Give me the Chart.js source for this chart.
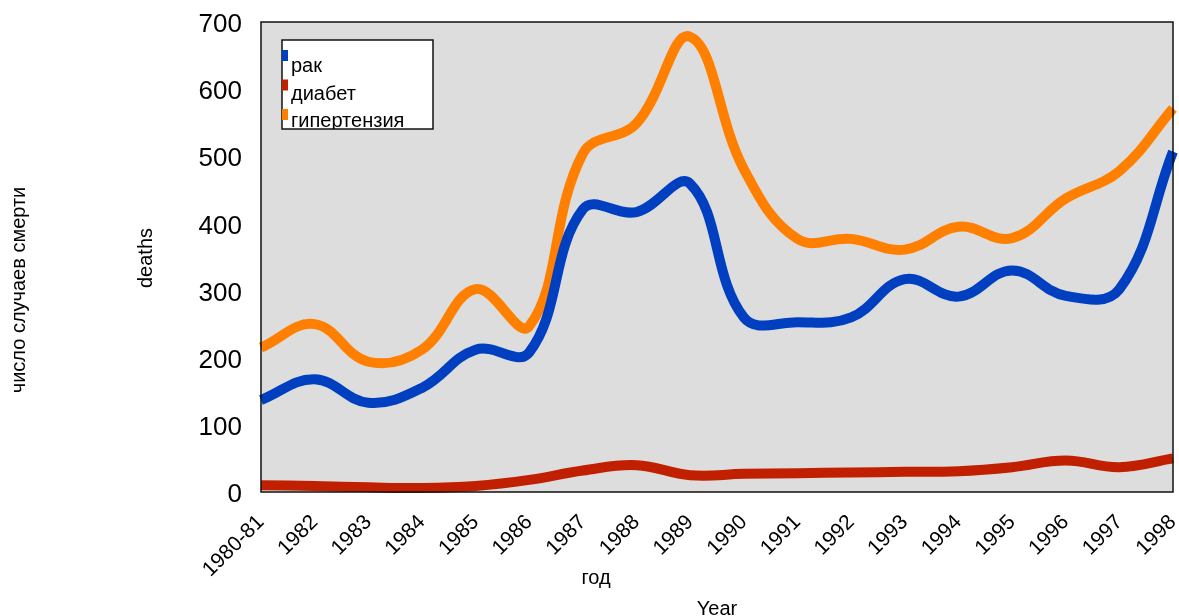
<!DOCTYPE html>
<html>
<head>
<meta charset="utf-8">
<script src="https://cdn.jsdelivr.net/npm/chart.js@4"></script>
<style>
  html, body { margin: 0; padding: 0; background: #fff; }
  #wrap { width: 1179px; height: 616px; }
</style>
</head>
<body>
<div id="wrap"><canvas id="chart" width="1179" height="616"></canvas></div>
<script>
let years = ['1980-81','1982','1983','1984','1985','1986','1987','1988','1989',
             '1990','1991','1992','1993','1994','1995','1996','1997','1998'];
let cancer = [137,168,133,155,212,208,421,417,459,260,253,260,317,291,330,292,302,507];
let diabetes = [10,9,7,6,9,18,32,40,25,27,28,29,30,31,37,47,37,50];
let hypertension = [215,250,194,212,302,247,504,549,678,481,377,377,361,395,378,437,478,571];
let yTicks = [0,100,200,300,400,500,600,700];

let FONT = "'Liberation Sans', Arial, sans-serif";

let plotDeco = {
    id: 'plotDeco',
    beforeDatasetsDraw(chart) {
        let a = chart.chartArea, c = chart.ctx;
        c.save();
        c.fillStyle = '#dddddd';
        c.fillRect(a.left, a.top, a.right - a.left, a.bottom - a.top);
        c.restore();
    },
    afterDatasetsDraw(chart) {
        let a = chart.chartArea, c = chart.ctx;
        c.save();
        c.strokeStyle = '#111';
        c.lineWidth = 1.5;
        c.strokeRect(a.left, a.top, a.right - a.left, a.bottom - a.top);

        // legend box inside the plot
        c.fillStyle = '#fff';
        c.fillRect(282, 40, 151, 89);
        c.strokeStyle = '#111';
        c.lineWidth = 1.5;
        c.strokeRect(282, 40, 151, 89);
        c.save();
        c.beginPath();
        c.rect(282, 40, 151, 89);
        c.clip();
        c.font = '20px ' + FONT;
        c.textBaseline = 'alphabetic';
        chart.data.datasets.forEach((ds, i) => {
            c.fillStyle = ds.borderColor;
            c.fillRect(282, 50 + i * 29.5, 6, 11);
            c.fillStyle = '#000';
            c.fillText(ds.label, 291, 72 + i * 27.5);
        });
        c.restore();

        // axis titles
        c.fillStyle = '#000';
        c.textAlign = 'center';
        c.textBaseline = 'middle';
        c.font = '20px ' + FONT;
        c.save();
        c.translate(19, 290);
        c.rotate(-Math.PI / 2);
        c.fillText('число случаев смерти', 0, 0);
        c.restore();
        c.save();
        c.translate(146, 258);
        c.rotate(-Math.PI / 2);
        c.fillText('deaths', 0, 0);
        c.restore();
        c.fillText('год', 596, 578);
        c.fillText('Year', 717, 609);
        c.restore();
    }
};

let ctx = document.getElementById('chart').getContext('2d');
let deathChart = new Chart(ctx, {
    type: 'line',
    data: {
        labels: years,
        datasets: [
            { label: 'рак', data: cancer, borderColor: '#0040c0' },
            { label: 'диабет', data: diabetes, borderColor: '#c02000' },
            { label: 'гипертензия', data: hypertension, borderColor: '#ff8000' }
        ].map(d => Object.assign(d, {
            borderWidth: 10, tension: 0.4, pointRadius: 0, fill: false,
            clip: false, borderCapStyle: 'butt'
        }))
    },
    options: {
        responsive: false,
        animation: false,
        layout: { padding: { left: 0, right: 6, top: 22, bottom: 0 } },
        plugins: { legend: { display: false }, tooltip: { enabled: false } },
        scales: {
            x: {
                grid: { display: false, drawTicks: false },
                border: { display: false },
                ticks: {
                    color: '#000', font: { family: FONT, size: 21 },
                    maxRotation: 45, minRotation: 45, autoSkip: false, padding: 18
                },
                afterFit(s) { s.height = 124; s.paddingLeft = 0; s.paddingRight = 0; }
            },
            y: {
                min: 0, max: 700,
                grid: { display: false, drawTicks: false },
                border: { display: false },
                afterBuildTicks(s) { s.ticks = yTicks.map(v => ({ value: v })); },
                ticks: { color: '#000', font: { family: FONT, size: 26 }, padding: 19, labelOffset: 3 },
                afterFit(s) { s.width = 261; s.paddingTop = 0; s.paddingBottom = 0; }
            }
        }
    },
    plugins: [plotDeco]
});
</script>
</body>
</html>
